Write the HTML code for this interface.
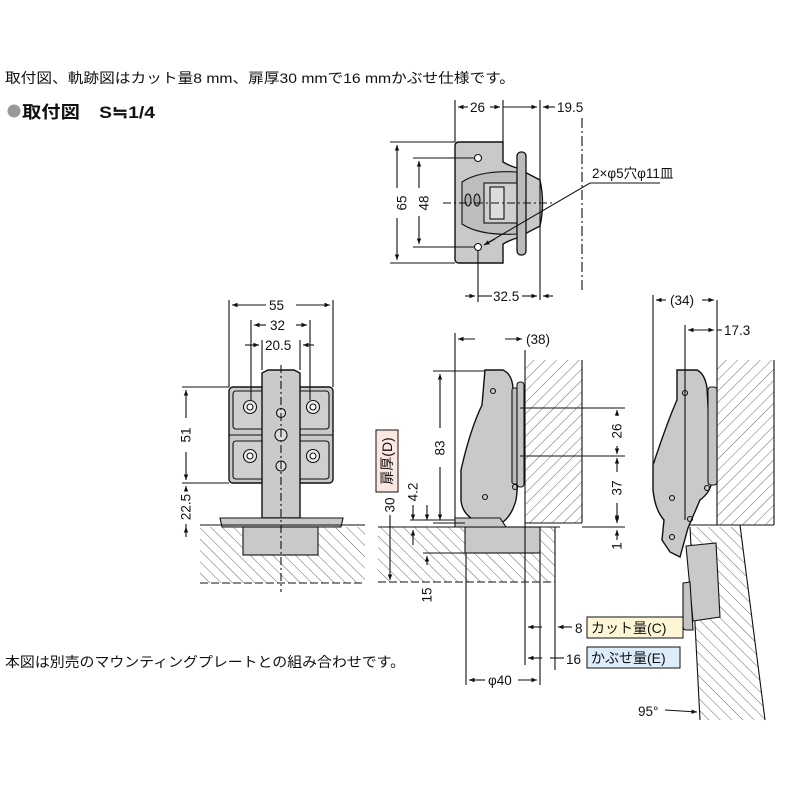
<!DOCTYPE html>
<html><head><meta charset="utf-8"><style>
html,body{margin:0;padding:0;background:#fff;}
svg{display:block;}
text{font-family:"Liberation Sans","Noto Sans CJK JP",sans-serif;fill:#111;}
</style></head><body>
<svg width="800" height="800" viewBox="0 0 800 800" xmlns="http://www.w3.org/2000/svg">
<defs>
<pattern id="hb" patternUnits="userSpaceOnUse" width="8" height="8" patternTransform="rotate(45)">
<line x1="0" y1="0" x2="0" y2="8" stroke="#444" stroke-width="0.8"/></pattern>
<pattern id="hf" patternUnits="userSpaceOnUse" width="8" height="8" patternTransform="rotate(-45)">
<line x1="0" y1="0" x2="0" y2="8" stroke="#444" stroke-width="0.8"/></pattern>
<marker id="a" viewBox="0 0 10 10" refX="10" refY="5" markerWidth="7" markerHeight="5" orient="auto-start-reverse"><path d="M0,1 L10,5 L0,9z" fill="#111"/></marker>
</defs>
<g font-size="14">
<text x="5" y="83" textLength="510" lengthAdjust="spacingAndGlyphs">取付図、軌跡図はカット量8 mm、扉厚30 mmで16 mmかぶせ仕様です。</text>
<circle cx="14" cy="111" r="6.5" fill="#999"/>
<text x="22" y="118" font-size="17" font-weight="bold" textLength="133" lengthAdjust="spacingAndGlyphs">取付図　S≒1/4</text>
<text x="5" y="667" textLength="400" lengthAdjust="spacingAndGlyphs">本図は別売のマウンティングプレートとの組み合わせです。</text>
</g>

<g stroke="#111" stroke-width="1.1" fill="none">
<!-- TOP VIEW -->
<path d="M459,142 H503 V162 Q510,166 517,168 L540,180 Q545,203 540,226 L517,238 Q510,240 503,244 V263 H459 Q455,263 455,259 V146 Q455,142 459,142Z" fill="#c9c9c9" stroke-width="1.4"/>
<path d="M462,182 Q480,170 517,172 L517,234 Q480,236 462,224Z" fill="#bdbdbd"/>
<rect x="484" y="183" width="34" height="40" fill="#d0d0d0"/>
<rect x="490" y="187" width="14" height="32" fill="#ddd"/>
<ellipse cx="468" cy="200" rx="3" ry="6" fill="#aaa"/><ellipse cx="477" cy="200" rx="3" ry="6" fill="#aaa"/>
<rect x="517" y="152" width="9" height="103" rx="4" fill="#bbb" stroke-width="1.3"/>
<circle cx="478" cy="158" r="3.5" fill="#fff"/><circle cx="478" cy="247" r="3.5" fill="#fff"/>
<line x1="443" y1="203" x2="555" y2="203" stroke-dasharray="8,3,2,3"/>
<line x1="582" y1="118" x2="582" y2="290" stroke-dasharray="10,3,2,3"/>
<line x1="455" y1="100" x2="455" y2="142"/><line x1="503" y1="100" x2="503" y2="142"/><line x1="540" y1="100" x2="540" y2="300"/>
<line x1="458" y1="107" x2="468" y2="107" marker-start="url(#a)"/><line x1="490" y1="107" x2="500" y2="107" marker-end="url(#a)"/>
<line x1="503" y1="107" x2="537" y2="107" marker-end="url(#a)"/>
<line x1="543" y1="107" x2="555" y2="107" marker-start="url(#a)"/>
<line x1="390" y1="142" x2="455" y2="142"/><line x1="390" y1="263" x2="455" y2="263"/>
<line x1="397" y1="145" x2="397" y2="188" marker-start="url(#a)"/><line x1="397" y1="218" x2="397" y2="260" marker-end="url(#a)"/>
<line x1="413" y1="158" x2="474" y2="158"/><line x1="413" y1="247" x2="474" y2="247"/>
<line x1="419" y1="161" x2="419" y2="188" marker-start="url(#a)"/><line x1="419" y1="216" x2="419" y2="244" marker-end="url(#a)"/>
<line x1="478" y1="250" x2="478" y2="302"/>
<line x1="465" y1="296" x2="475" y2="296" marker-end="url(#a)"/><line x1="478" y1="296" x2="492" y2="296"/><line x1="522" y1="296" x2="537" y2="296" marker-end="url(#a)"/><line x1="543" y1="296" x2="553" y2="296" marker-start="url(#a)"/>
<polyline points="660,183 590,183 484,245" /><line x1="495" y1="239" x2="484" y2="245" marker-end="url(#a)"/>

<!-- FRONT VIEW -->
<rect x="229" y="387" width="104" height="96" rx="4" fill="#c9c9c9" stroke-width="1.4"/>
<line x1="229" y1="435" x2="333" y2="435"/>
<rect x="233" y="391" width="32" height="38" rx="3" fill="#cfcfcf"/><rect x="297" y="391" width="32" height="38" rx="3" fill="#cfcfcf"/>
<rect x="233" y="441" width="32" height="38" rx="3" fill="#cfcfcf"/><rect x="297" y="441" width="32" height="38" rx="3" fill="#cfcfcf"/>
<circle cx="250" cy="407" r="6.5" fill="#eee"/><circle cx="250" cy="407" r="3" fill="#fff"/>
<circle cx="313" cy="407" r="6.5" fill="#eee"/><circle cx="313" cy="407" r="3" fill="#fff"/>
<circle cx="250" cy="456" r="6.5" fill="#eee"/><circle cx="250" cy="456" r="3" fill="#fff"/>
<circle cx="313" cy="456" r="6.5" fill="#eee"/><circle cx="313" cy="456" r="3" fill="#fff"/>
<path d="M262,373 L268,370 H294 L300,373 V518 H262Z" fill="#cacaca" stroke-width="1.4"/>
<circle cx="281" cy="413" r="4.5" fill="#ddd"/><circle cx="281" cy="435" r="6" fill="#ddd"/><circle cx="281" cy="466" r="5" fill="#ddd"/>
<path d="M220,518 H343 L341,527 H222Z" fill="#c9c9c9"/>
<rect x="200" y="527" width="165" height="56" fill="url(#hf)" stroke="none"/>
<rect x="243" y="527" width="75" height="28" fill="#c9c9c9"/>
<line x1="200" y1="525" x2="365" y2="525"/>
<line x1="200" y1="583" x2="365" y2="583" stroke-dasharray="8,3"/>
<line x1="281" y1="365" x2="281" y2="592" stroke-dasharray="8,3,2,3"/>
<line x1="229" y1="300" x2="229" y2="387"/><line x1="333" y1="300" x2="333" y2="387"/>
<line x1="251" y1="320" x2="251" y2="400"/><line x1="310" y1="320" x2="310" y2="400"/>
<line x1="262" y1="340" x2="262" y2="370"/><line x1="300" y1="340" x2="300" y2="370"/>
<line x1="232" y1="305" x2="266" y2="305" marker-start="url(#a)"/><line x1="296" y1="305" x2="330" y2="305" marker-end="url(#a)"/>
<line x1="254" y1="325" x2="266" y2="325" marker-start="url(#a)"/><line x1="296" y1="325" x2="307" y2="325" marker-end="url(#a)"/>
<line x1="245" y1="345" x2="259" y2="345" marker-end="url(#a)"/><line x1="303" y1="345" x2="314" y2="345" marker-start="url(#a)"/>
<line x1="182" y1="387" x2="229" y2="387"/><line x1="182" y1="483" x2="229" y2="483"/>
<line x1="186" y1="390" x2="186" y2="418" marker-start="url(#a)"/><line x1="186" y1="452" x2="186" y2="480" marker-end="url(#a)"/>
<line x1="186" y1="486" x2="186" y2="490" marker-start="url(#a)"/><line x1="186" y1="524" x2="186" y2="537" /><line x1="186" y1="530" x2="186" y2="527" marker-end="url(#a)"/>

<!-- SIDE VIEW -->
<rect x="525" y="360" width="57" height="163" fill="url(#hb)" stroke="none"/>
<line x1="525" y1="350" x2="525" y2="527"/><line x1="582" y1="360" x2="582" y2="523"/>
<line x1="525" y1="523" x2="582" y2="523"/>
<rect x="378" y="527" width="177" height="55" fill="url(#hf)" stroke="none"/>
<line x1="378" y1="527" x2="560" y2="527"/>
<line x1="378" y1="582" x2="555" y2="582" stroke-dasharray="8,3"/><line x1="555" y1="527" x2="555" y2="670"/>
<rect x="465" y="527" width="75" height="26" fill="#c9c9c9"/>
<path d="M485,370 H503 Q512,374 513,388 L514,476 Q519,484 516,500 Q512,515 503,522 H478 Q462,515 461,500 V470 Q470,430 482,405Z" fill="#c9c9c9" stroke-width="1.4"/>
<rect x="512" y="388" width="7" height="96" rx="2" fill="#bbb"/><rect x="517" y="382" width="7" height="105" rx="3" fill="#c4c4c4"/>
<circle cx="493" cy="391" r="2.5"/><circle cx="485" cy="497" r="2.5"/><circle cx="515" cy="487" r="2.5"/>
<path d="M455,518 H500 L506,527 H455Z" fill="#c9c9c9"/>
<line x1="455" y1="333" x2="455" y2="518"/>
<line x1="458" y1="339" x2="475" y2="339" marker-start="url(#a)"/><line x1="505" y1="339" x2="522" y2="339" marker-end="url(#a)"/>
<line x1="433" y1="371" x2="485" y2="371"/><line x1="433" y1="523" x2="465" y2="523"/>
<line x1="440" y1="374" x2="440" y2="428" marker-start="url(#a)"/><line x1="440" y1="467" x2="440" y2="520" marker-end="url(#a)"/>
<line x1="520" y1="408" x2="625" y2="408"/><line x1="520" y1="456" x2="625" y2="456"/><line x1="582" y1="527" x2="625" y2="527"/>
<line x1="617" y1="410" x2="617" y2="416" marker-start="url(#a)"/><line x1="617" y1="446" x2="617" y2="454" marker-end="url(#a)"/>
<line x1="617" y1="458" x2="617" y2="472" marker-start="url(#a)"/><line x1="617" y1="503" x2="617" y2="521" marker-end="url(#a)"/>
<line x1="617" y1="515" x2="617" y2="523" marker-end="url(#a)"/><line x1="617" y1="540" x2="617" y2="530" marker-end="url(#a)"/>
<line x1="390" y1="515" x2="390" y2="580" marker-end="url(#a)"/>
<line x1="413" y1="505" x2="413" y2="520" marker-end="url(#a)"/><line x1="413" y1="545" x2="413" y2="530" marker-end="url(#a)"/>
<line x1="427" y1="505" x2="427" y2="520" marker-end="url(#a)"/><line x1="427" y1="565" x2="427" y2="556" marker-end="url(#a)"/>
<line x1="423" y1="553" x2="465" y2="553"/>
<line x1="410" y1="520" x2="455" y2="520"/>
<line x1="466" y1="553" x2="466" y2="685"/><line x1="540" y1="553" x2="540" y2="685"/>
<line x1="469" y1="680" x2="485" y2="680" marker-start="url(#a)"/><line x1="518" y1="680" x2="537" y2="680" marker-end="url(#a)"/>
<line x1="525" y1="527" x2="525" y2="665"/>
<line x1="528" y1="627" x2="542" y2="627" marker-start="url(#a)"/><line x1="558" y1="627" x2="572" y2="627" marker-start="url(#a)"/>
<line x1="528" y1="658" x2="542" y2="658" marker-start="url(#a)"/><line x1="550" y1="658" x2="564" y2="658"/>

<!-- RIGHT VIEW -->
<path d="M690,527 L740,527 L765,720 L700,720Z" fill="url(#hf)" stroke="none"/>
<line x1="690" y1="527" x2="700" y2="720"/><line x1="740" y1="525" x2="765" y2="720"/><line x1="686" y1="525" x2="740" y2="525"/>
<rect x="717" y="360" width="57" height="165" fill="url(#hb)" stroke="none"/>
<line x1="717" y1="300" x2="717" y2="525"/><line x1="774" y1="360" x2="774" y2="525"/><line x1="717" y1="525" x2="774" y2="525"/>
<path d="M677,370 H697 Q705,374 707,388 L712,480 Q711,492 700,500 L688,528 L680,557 L670,552 L662,540 L664,520 Q655,510 653,490 V465 Q668,420 677,400Z" fill="#c9c9c9" stroke-width="1.4"/>
<rect x="708" y="387" width="9" height="98" rx="3" fill="#c4c4c4"/>
<circle cx="685" cy="393" r="2.5"/><circle cx="672" cy="498" r="2.5"/><circle cx="690" cy="519" r="2.5"/><circle cx="707" cy="488" r="2.5"/><circle cx="672" cy="537" r="2.5"/>
<path d="M686,546 L716,543 L720,617 L693,621Z" fill="#c9c9c9"/>
<path d="M683,583 L690,582 L693,630 L686,630 Q683,630 683,626Z" fill="#c4c4c4"/>
<line x1="653" y1="295" x2="653" y2="465"/><line x1="685" y1="325" x2="685" y2="520"/>
<line x1="656" y1="300" x2="666" y2="300" marker-start="url(#a)"/><line x1="702" y1="300" x2="714" y2="300" marker-end="url(#a)"/>
<line x1="688" y1="330" x2="714" y2="330" marker-start="url(#a)"/><line x1="688" y1="330" x2="714" y2="330" marker-end="url(#a)"/><line x1="717" y1="330" x2="722" y2="330"/>
<line x1="665" y1="710" x2="697" y2="712" marker-end="url(#a)"/>
</g>

<g font-size="13.5">
<text x="470" y="112">26</text><text x="557" y="112">19.5</text>
<text x="402" y="203" transform="rotate(-90 402 203)" text-anchor="middle" dy="0.35em">65</text>
<text x="424" y="203" transform="rotate(-90 424 203)" text-anchor="middle" dy="0.35em">48</text>
<text x="493" y="301">32.5</text>
<text x="592" y="178">2×φ5穴φ11皿</text>
<text x="269" y="310">55</text><text x="270" y="330">32</text><text x="265" y="350">20.5</text>
<text x="186" y="435" transform="rotate(-90 186 435)" text-anchor="middle" dy="0.35em">51</text>
<text x="186" y="507" transform="rotate(-90 186 507)" text-anchor="middle" dy="0.35em">22.5</text>
<text x="526" y="344">(38)</text>
<text x="440" y="448" transform="rotate(-90 440 448)" text-anchor="middle" dy="0.35em">83</text>
<text x="617" y="431" transform="rotate(-90 617 431)" text-anchor="middle" dy="0.35em">26</text>
<text x="617" y="488" transform="rotate(-90 617 488)" text-anchor="middle" dy="0.35em">37</text>
<text x="617" y="546" transform="rotate(-90 617 546)" text-anchor="middle" dy="0.35em">1</text>
<text x="390" y="505" transform="rotate(-90 390 505)" text-anchor="middle" dy="0.35em">30</text>
<text x="413" y="492" transform="rotate(-90 413 492)" text-anchor="middle" dy="0.35em">4.2</text>
<text x="427" y="595" transform="rotate(-90 427 595)" text-anchor="middle" dy="0.35em">15</text>
<text x="488" y="685">φ40</text>
<text x="575" y="633">8</text><text x="566" y="664">16</text>
<text x="670" y="305">(34)</text><text x="724" y="335">17.3</text>
<text x="638" y="716">95°</text>
</g>
<rect x="587" y="617" width="96" height="21" fill="#fdf6d6" stroke="#111"/>
<text x="591" y="633" font-size="14">カット量(C)</text>
<rect x="587" y="647" width="93" height="21" fill="#dcecf8" stroke="#111"/>
<text x="591" y="663" font-size="14">かぶせ量(E)</text>
<rect x="376" y="430" width="22" height="62" fill="#fbe6e0" stroke="#111"/>
<text x="387" y="461" font-size="14" transform="rotate(-90 387 461)" text-anchor="middle" dy="0.35em">扉厚(D)</text>
</svg>
</body></html>
